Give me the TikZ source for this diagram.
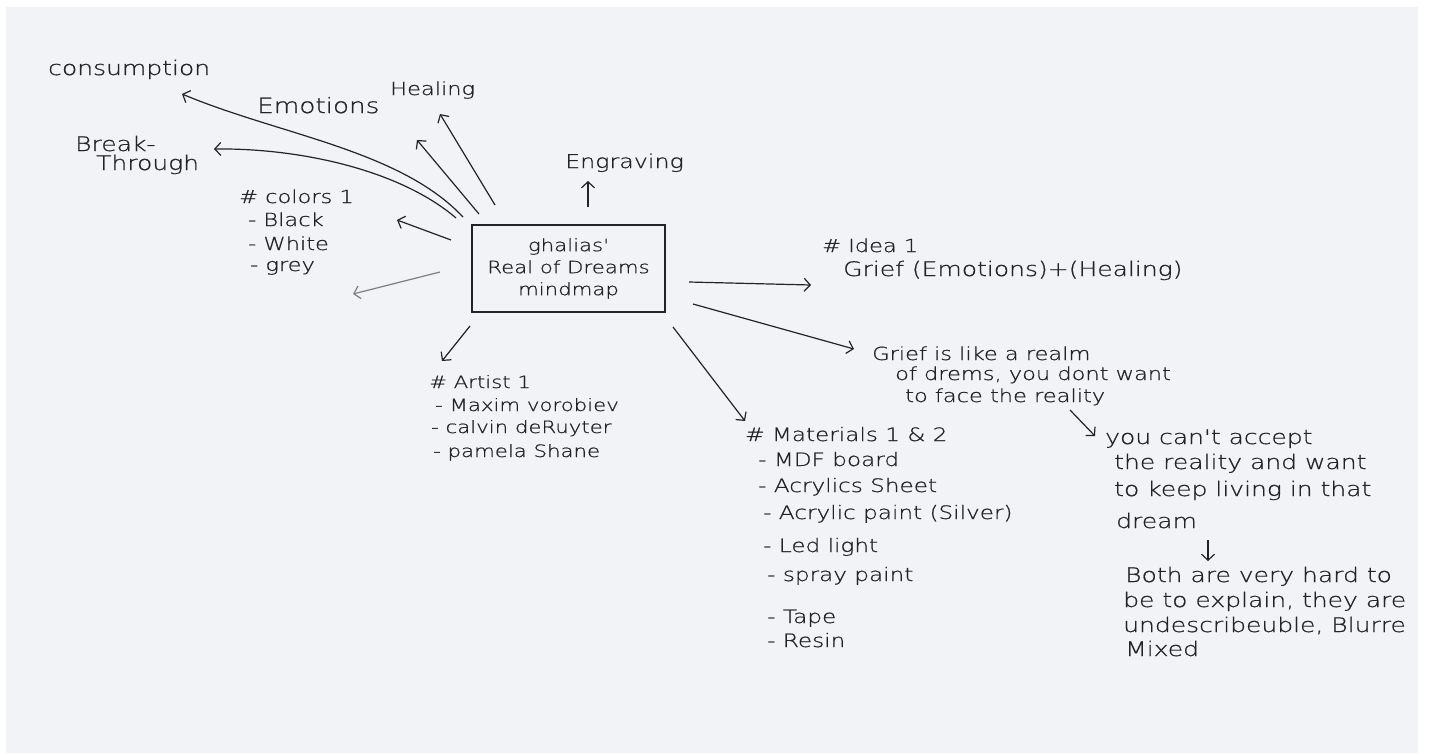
\documentclass[tikz,border=0pt]{standalone}
\usepackage{fontspec}
\newfontfamily\hand{DejaVu Sans ExtraLight}[FakeStretch=1.25,FakeBold=0.8]
\usetikzlibrary{arrows.meta}
\definecolor{paper}{RGB}{242,243,246}
\definecolor{ink}{RGB}{35,35,40}
\definecolor{faint}{RGB}{125,125,132}
\tikzset{
  txt/.style={anchor=base west, inner sep=0pt, text=ink, font=\hand\fontsize{#1}{#1}\selectfont},
  arr/.style={draw=ink, line width=1.2pt, -{Straight Barb[length=6pt,width=13pt]}},
}
\begin{document}
\begin{tikzpicture}[x=1pt,y=-1pt]
\useasboundingbox (0,0) rectangle (1430,753);
\fill[white] (0,0) rectangle (1430,753);
\fill[paper] (6,7) rectangle (1418,753);

% central box
\node[draw=ink, line width=1.3pt, minimum width=193pt, minimum height=87pt, inner sep=0pt,
      align=center, text=ink, font=\hand\fontsize{17}{22}\selectfont] (box) at (568.5,268.5)
      {ghalias'\\Real of Dreams\\mindmap};

% top-left words
\node[txt=20] (cons) at (48,75) {consumption};
\node[txt=21] (emo) at (257,113) {Emotions};
\node[txt=18] (heal) at (390,95) {Healing};
\node[txt=20] (break) at (75,151) {Break-};
\node[txt=20] (through) at (96,170) {Through};
\node[txt=19] (engr) at (565,168) {Engraving};

% colors
\node[txt=18] (col) at (239,203) {\# colors 1};
\node[txt=18] (col1) at (248,226) {- Black};
\node[txt=18] (col2) at (248,250) {- White};
\node[txt=18] (col3) at (250,271) {- grey};

% artists
\node[txt=17] (art) at (429,388) {\# Artist 1};
\node[txt=17] (art1) at (435,411) {- Maxim vorobiev};
\node[txt=17] (art2) at (431,433) {- calvin deRuyter};
\node[txt=17] (art3) at (433,457) {- pamela Shane};

% idea
\node[txt=18] (idea) at (822,252) {\# Idea 1};
\node[txt=20] (idea1) at (843,276) {Grief (Emotions)+(Healing)};

% grief
\node[txt=18] (g1) at (872,360) {Grief is like a realm};
\node[txt=18] (g2) at (895,380) {of drems, you dont want};
\node[txt=18] (g3) at (905,402) {to face the reality};

% materials
\node[txt=18.5] (mat) at (745,441) {\# Materials 1 \& 2};
\node[txt=18.5] (mat1) at (758,466) {- MDF board};
\node[txt=18.5] (mat2) at (758,492) {- Acrylics Sheet};
\node[txt=18.5] (mat3) at (763,519) {- Acrylic paint (Silver)};
\node[txt=18.5] (mat4) at (763,552) {- Led light};
\node[txt=18.5] (mat5) at (767,581) {- spray paint};
\node[txt=18.5] (mat6) at (767,623) {- Tape};
\node[txt=18.5] (mat7) at (767,647) {- Resin};

% right column
\node[txt=20] (y1) at (1105,444) {you can't accept};
\node[txt=20] (y2) at (1114,469) {the reality and want};
\node[txt=20] (y3) at (1114,496) {to keep living in that};
\node[txt=20] (y4) at (1116,528) {dream};
\node[txt=20] (b1) at (1125,582) {Both are very hard to};
\node[txt=20] (b2) at (1123,607) {be to explain, they are};
\node[txt=20] (b3) at (1123,632) {undescribeuble, Blurre};
\node[txt=20] (b4) at (1125,656) {Mixed};

% connector ends
\coordinate (sCons) at (463,217);   \coordinate (eCons) at (182,94);
\coordinate (sBreak) at (456,218);  \coordinate (eBreak) at (214,149);
\coordinate (sEmo) at (479,214);    \coordinate (eEmo) at (417,140);
\coordinate (sHeal) at (495,205);   \coordinate (eHeal) at (440,114);
\coordinate (sEngr) at (588,207);   \coordinate (eEngr) at (588,181);
\coordinate (sCol) at (451,240);    \coordinate (eCol) at (397,220);
\coordinate (sLow) at (440,272);    \coordinate (eLow) at (353,294);
\coordinate (sArt) at (470,326);    \coordinate (eArt) at (442,361);
\coordinate (sIdea) at (689,282);   \coordinate (eIdea) at (811,285);
\coordinate (sGrief) at (693,304);  \coordinate (eGrief) at (854,349);
\coordinate (sMat) at (673,327);    \coordinate (eMat) at (745,421);
\coordinate (sYou) at (1070,410);   \coordinate (eYou) at (1095,436);
\coordinate (sBoth) at (1208,540);  \coordinate (eBoth) at (1208,561);

% connectors
\draw[arr] (sCons) .. controls (400,150) and (280,135) .. (eCons);
\draw[arr] (sBreak) .. controls (400,170) and (300,148) .. (eBreak);
\draw[arr] (sEmo) -- (eEmo);
\draw[arr] (sHeal) -- (eHeal);
\draw[arr] (sEngr) -- (eEngr);
\draw[arr] (sCol) -- (eCol);
\draw[arr, draw=faint] (sLow) -- (eLow);
\draw[arr] (sArt) -- (eArt);
\draw[arr] (sIdea) -- (eIdea);
\draw[arr] (sGrief) -- (eGrief);
\draw[arr] (sMat) -- (eMat);
\draw[arr] (sYou) -- (eYou);
\draw[arr] (sBoth) -- (eBoth);
\end{tikzpicture}
\end{document}
